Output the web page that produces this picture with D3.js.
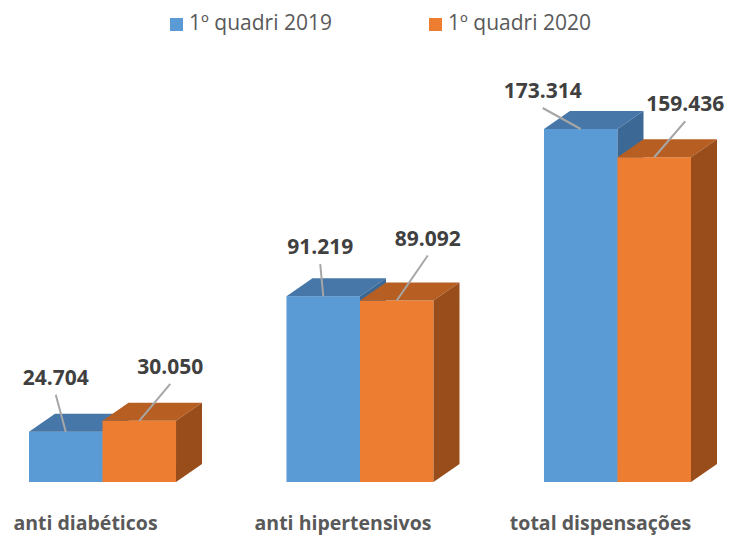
<!DOCTYPE html>
<html>
<head>
<meta charset="utf-8">
<script src="https://cdn.jsdelivr.net/npm/d3@7"></script>
<style>
  body { margin: 0; background: #fff; }
  svg { display: block; }
</style>
</head>
<body>
<svg width="729" height="537"></svg>
<script>
// data
var categories = ['anti diabéticos', 'anti hipertensivos', 'total dispensações'];
var seriesNames = ['1º quadri 2019', '1º quadri 2020'];
var values2019 = [24704, 91219, 173314];
var values2020 = [30050, 89092, 159436];

// layout / style
var svg = d3.select('svg');
var baseY = 482;
var depth = {x: 26, y: 18};
var colors = [
    {front: '#5B9BD5', top: '#4677A8', side: '#3B6895'},
    {front: '#ED7D31', top: '#B75F22', side: '#994D1B'}
];
// label nudges from the bar top centre, per category then series
var labelDx = [[-10, 31], [-3, 31], [-38, 31]];
var labelDy = [[-47, -47], [-42, -55], [-31, -46]];

var fmt = d3.formatLocale({decimal: ',', thousands: '.', grouping: [3], currency: ['', '']}).format(',d');

var data = [];
categories.forEach(function(c, i) {
    data.push({cat: c, ci: i, si: 0, value: values2019[i]});
    data.push({cat: c, ci: i, si: 1, value: values2020[i]});
});

var yScale = d3.scaleLinear().domain([0, 180000]).range([baseY, baseY - 180000 * 353 / 173314]);
var xGroup = d3.scaleBand().domain(categories).range([29, 691]).paddingInner(0.429).paddingOuter(0);
var xSeries = d3.scaleBand().domain(seriesNames).range([0, xGroup.bandwidth()]);

function barX(d) { return xGroup(d.cat) + xSeries(seriesNames[d.si]); }

var bars = svg.append('g').selectAll('g.bar')
    .data(data)
    .enter()
    .append('g')
    .attr('class', 'bar');

bars.append('rect')
    .attr('x', barX)
    .attr('y', d => yScale(d.value))
    .attr('width', xSeries.bandwidth())
    .attr('height', d => baseY - yScale(d.value))
    .style('fill', d => colors[d.si].front);

bars.append('polygon')
    .attr('points', function(d) {
        var x0 = barX(d), x1 = x0 + xSeries.bandwidth(), y0 = yScale(d.value);
        return [[x0, y0], [x0 + depth.x, y0 - depth.y], [x1 + depth.x, y0 - depth.y], [x1, y0]].join(' ');
    })
    .style('fill', d => colors[d.si].top);

bars.append('polygon')
    .attr('points', function(d) {
        var x1 = barX(d) + xSeries.bandwidth(), y0 = yScale(d.value);
        return [[x1, y0], [x1 + depth.x, y0 - depth.y], [x1 + depth.x, baseY - depth.y], [x1, baseY]].join(' ');
    })
    .style('fill', d => colors[d.si].side);

// data labels with leader lines
function labelX(d) { return barX(d) + xSeries.bandwidth() / 2 + labelDx[d.ci][d.si]; }
function labelY(d) { return yScale(d.value) + labelDy[d.ci][d.si]; }

svg.append('g').selectAll('line')
    .data(data)
    .enter()
    .append('line')
    .attr('x1', labelX)
    .attr('y1', d => labelY(d) + 10)
    .attr('x2', d => barX(d) + xSeries.bandwidth() / 2)
    .attr('y2', d => yScale(d.value))
    .style('stroke', '#A6A6A6')
    .style('stroke-width', 2);

svg.append('g').selectAll('text')
    .data(data)
    .enter()
    .append('text')
    .attr('x', labelX)
    .attr('y', labelY)
    .attr('text-anchor', 'middle')
    .style('font-family', '"Open Sans", sans-serif')
    .style('font-weight', 'bold')
    .style('font-size', '21px')
    .style('fill', '#404040')
    .text(d => fmt(d.value));

// category labels
svg.append('g').selectAll('text')
    .data(categories)
    .enter()
    .append('text')
    .attr('x', d => xGroup(d) + xGroup.bandwidth() / 2 - 17)
    .attr('y', 530)
    .attr('text-anchor', 'middle')
    .style('font-family', '"Open Sans", sans-serif')
    .style('font-weight', 'bold')
    .style('font-size', '19.5px')
    .style('fill', '#595959')
    .text(d => d);

// legend
var legendX = [170, 429];
var legend = svg.append('g').selectAll('g')
    .data(seriesNames)
    .enter()
    .append('g')
    .attr('transform', (d, i) => 'translate(' + legendX[i] + ',18)');

legend.append('rect')
    .attr('width', 13)
    .attr('height', 13)
    .style('fill', (d, i) => colors[i].front);

legend.append('text')
    .attr('x', 19)
    .attr('y', 12)
    .style('font-family', '"Open Sans", sans-serif')
    .style('font-size', '21px')
    .style('fill', '#595959')
    .text(d => d);
</script>
</body>
</html>
